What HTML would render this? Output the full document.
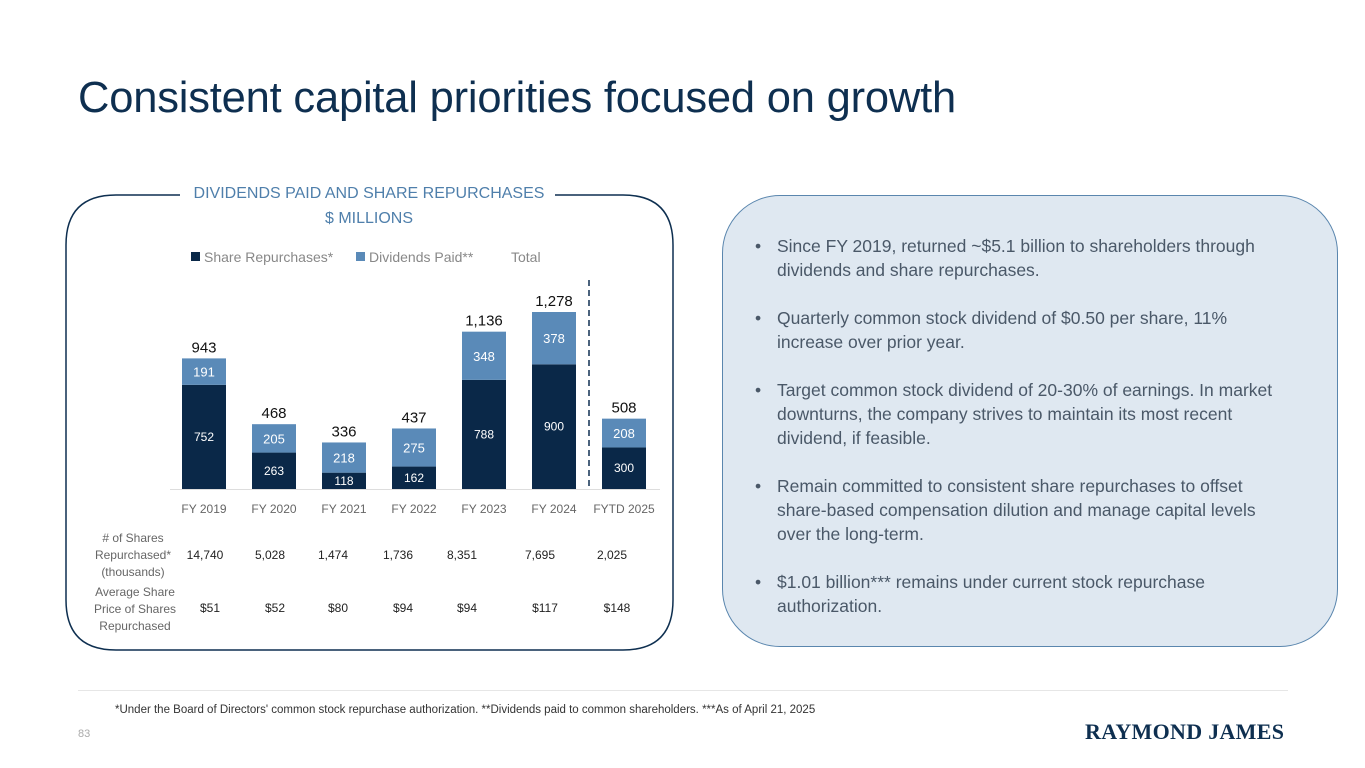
<!DOCTYPE html>
<html><head><meta charset="utf-8"><style>
body{margin:0;width:1365px;height:768px;background:#fff;font-family:"Liberation Sans",sans-serif;position:relative;overflow:hidden}
.abs{position:absolute}
#title{left:78px;top:74px;font-size:43.5px;color:#0e2f50;letter-spacing:-0.2px}
#right{left:722px;top:195px;width:616px;height:452px;border:1.5px solid #5a86ae;border-radius:58px;background:#dfe8f1;box-sizing:border-box}
#right ul{margin:0;padding:0;list-style:none;position:absolute;left:32px;top:38px;width:535px;color:#4a5868;font-size:17.5px;line-height:24px}
#right li{position:relative;padding-left:22px;margin-bottom:24px}
#right li:before{content:"•";position:absolute;left:0}
#foot{left:115px;top:704px;font-size:11.5px;color:#333}
#pg{left:78px;top:728px;font-size:11px;color:#aaa}
#logo{left:1085px;top:719px;font-family:"Liberation Serif",serif;font-weight:bold;font-size:22px;color:#0e2f50;letter-spacing:0.3px}
#hr{left:78px;top:690px;width:1210px;height:1px;background:#e6e6e6}
</style></head><body>
<div id="title" class="abs">Consistent capital priorities focused on growth</div>
<svg class="abs" style="left:0;top:0" width="700" height="680" id="chart" font-family="Liberation Sans, sans-serif"></svg>
<div id="right" class="abs"><ul>
<li>Since FY 2019, returned ~$5.1 billion to shareholders through dividends and share repurchases.</li>
<li>Quarterly common stock dividend of $0.50 per share, 11% increase over prior year.</li>
<li>Target common stock dividend of 20-30% of earnings. In market downturns, the company strives to maintain its most recent dividend, if feasible.</li>
<li>Remain committed to consistent share repurchases to offset share-based compensation dilution and manage capital levels over the long-term.</li>
<li>$1.01 billion*** remains under current stock repurchase authorization.</li>
</ul></div>
<div id="hr" class="abs"></div>
<div id="foot" class="abs">*Under the Board of Directors' common stock repurchase authorization. **Dividends paid to common shareholders. ***As of April 21, 2025</div>
<div id="pg" class="abs">83</div>
<div id="logo" class="abs">RAYMOND JAMES</div>
<script>
const categories=["FY 2019","FY 2020","FY 2021","FY 2022","FY 2023","FY 2024","FYTD 2025"];
const repurchases=[752,263,118,162,788,900,300];
const dividends=[191,205,218,275,348,378,208];
const totals=[943,468,336,437,1136,1278,508];
const sharesRepurchased=["14,740","5,028","1,474","1,736","8,351","7,695","2,025"];
const avgPrice=["$51","$52","$80","$94","$94","$117","$148"];
const sharesX=[205,270,333,398,462,540,612];
const NS="http://www.w3.org/2000/svg";
const svg=document.getElementById('chart');
function el(t,a,txt){const e=document.createElementNS(NS,t);for(const k in a)e.setAttribute(k,a[k]);if(txt!==undefined)e.textContent=txt;svg.appendChild(e);return e;}
const base=489,scale=177/1278,x0=204,step=70,bw=44;
const xc=i=>x0+i*step, y=v=>base-v*scale;
let e;
e=el('path',{d:'M180,195 L116,195 Q66,195 66,245 L66,600 Q66,650 116,650 L623,650 Q673,650 673,600 L673,245 Q673,195 623,195 L555,195',fill:'none',stroke:'#0e2f50','stroke-width':1.5});

e=el('text',{x:369,y:198,'text-anchor':'middle','font-size':16,fill:'#4f7fab'},'DIVIDENDS PAID AND SHARE REPURCHASES');

e=el('text',{x:369,y:223,'text-anchor':'middle','font-size':16,fill:'#4f7fab'},'$ MILLIONS');

e=el('rect',{x:191,y:252,width:9,height:9,fill:'#0a2848'});
e=el('text',{x:204,y:262,'font-size':14,fill:'#888'},'Share Repurchases*');
e=el('rect',{x:356,y:252,width:9,height:9,fill:'#5a8ab8'});
e=el('text',{x:369,y:262,'font-size':14,fill:'#888'},'Dividends Paid**');
e=el('text',{x:511,y:262,'font-size':14,fill:'#888'},'Total');
e=el('line',{x1:170,y1:base+0.5,x2:660,y2:base+0.5,stroke:'#ddd'});
e=el('line',{x1:589,y1:280,x2:589,y2:488,stroke:'#0e2f50','stroke-dasharray':'6,4','stroke-width':1.5});
categories.forEach((c,i)=>{
  const cx=xc(i),r=repurchases[i],d=dividends[i];
  let b=el('rect',{x:cx-bw/2,y:y(r),width:bw,height:r*scale,fill:'#0a2848'});
  
  b=el('rect',{x:cx-bw/2,y:y(r+d),width:bw,height:d*scale,fill:'#5a8ab8'});
  
  let t=el('text',{x:cx,y:(y(r)+base)/2+4,'text-anchor':'middle','font-size':12,fill:'#fff'},r);
  
  t=el('text',{x:cx,y:(y(r)+y(r+d))/2+5,'text-anchor':'middle','font-size':13,fill:'#fff'},d);
  
  t=el('text',{x:cx,y:y(totals[i])-6,'text-anchor':'middle','font-size':15,fill:'#111'},totals[i].toLocaleString('en-US'));
  
  t=el('text',{x:cx,y:513,'text-anchor':'middle','font-size':12,fill:'#666'},c);
  
  t=el('text',{x:sharesX[i],y:559,'text-anchor':'middle','font-size':12,fill:'#222'},sharesRepurchased[i]);
  
  t=el('text',{x:sharesX[i]+5,y:612,'text-anchor':'middle','font-size':12,fill:'#222'},avgPrice[i]);
  
});
[['# of Shares',538],['Repurchased*',555],['(thousands)',572]].forEach(a=>{const t=el('text',{x:133,y:a[1]+4,'text-anchor':'middle','font-size':12,fill:'#666'},a[0]);});
[['Average Share',592],['Price of Shares',609],['Repurchased',626]].forEach(a=>{const t=el('text',{x:135,y:a[1]+4,'text-anchor':'middle','font-size':12,fill:'#666'},a[0]);});
</script>
</body></html>
